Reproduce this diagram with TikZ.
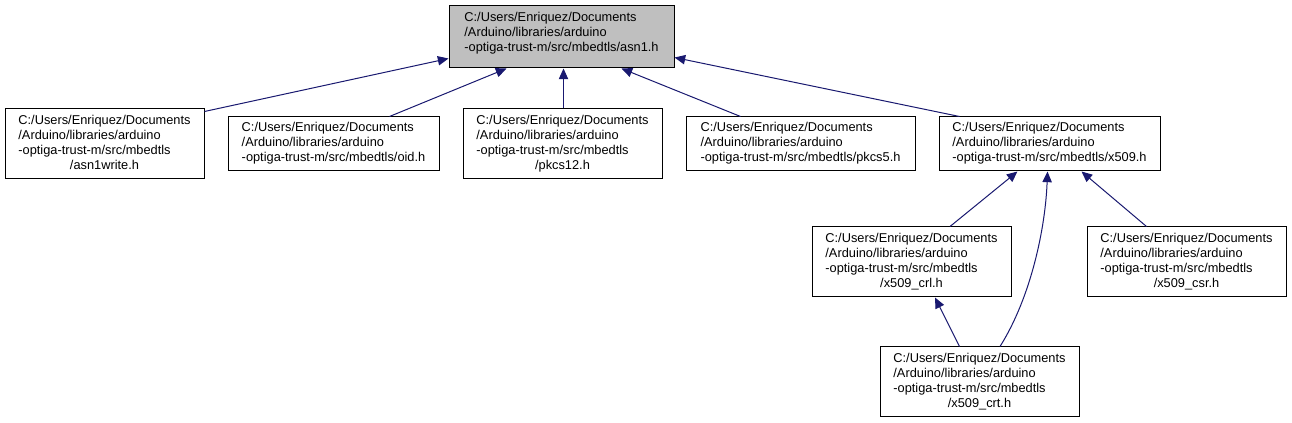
\documentclass[tikz,border=0pt]{standalone}
\usepackage{fontspec}
\setmainfont{Liberation Sans}
\usetikzlibrary{arrows.meta,calc}
\definecolor{edgeblue}{HTML}{191970}
\definecolor{rootgray}{HTML}{BFBFBF}
\newcommand{\fourl}[4]{\begin{tabular}{@{}l@{}}#1\\#2\\#3\\\multicolumn{1}{@{}c@{}}{#4}\end{tabular}}
\newcommand{\threel}[3]{\begin{tabular}{@{}l@{}}#1\\#2\\#3\end{tabular}}
\begin{document}
\begin{tikzpicture}[x=0.75pt,y=-0.75pt,
  filebox/.style={draw=black,line width=0.75pt,fill=white,inner sep=0pt,
    font=\fontsize{9.6}{11.25}\selectfont},
  rootbox/.style={filebox,fill=rootgray},
  edge/.style={draw=edgeblue,line width=0.75pt,-{Triangle[length=8pt,width=7pt]}}]
\fill[white] (0,0) rectangle (1292,423);
\useasboundingbox (0,0) rectangle (1292,423);

\node[rootbox,minimum width=168.75pt,minimum height=46.5pt] (asn1) at (561.5,37)
  {\threel{C:/Users/Enriquez/Documents}{/Arduino/libraries/arduino}{-optiga-trust-m/src/mbedtls/asn1.h\rule[-9pt]{0pt}{9pt}}};
\node[filebox,minimum width=149.25pt,minimum height=52.5pt] (asn1write) at (104.5,144)
  {\fourl{C:/Users/Enriquez/Documents}{/Arduino/libraries/arduino}{-optiga-trust-m/src/mbedtls}{/asn1write.h}};
\node[filebox,minimum width=158.25pt,minimum height=40.5pt] (oid) at (333.5,144)
  {\threel{C:/Users/Enriquez/Documents}{/Arduino/libraries/arduino}{-optiga-trust-m/src/mbedtls/oid.h}};
\node[filebox,minimum width=149.25pt,minimum height=52.5pt] (pkcs12) at (562.5,144)
  {\fourl{C:/Users/Enriquez/Documents}{/Arduino/libraries/arduino}{-optiga-trust-m/src/mbedtls}{/pkcs12.h}};
\node[filebox,minimum width=171.75pt,minimum height=40.5pt] (pkcs5) at (800.5,144)
  {\threel{C:/Users/Enriquez/Documents}{/Arduino/libraries/arduino}{-optiga-trust-m/src/mbedtls/pkcs5.h}};
\node[filebox,minimum width=165.75pt,minimum height=40.5pt] (x509) at (1049.5,144)
  {\threel{C:/Users/Enriquez/Documents}{/Arduino/libraries/arduino}{-optiga-trust-m/src/mbedtls/x509.h}};
\node[filebox,minimum width=149.25pt,minimum height=52.5pt] (crl) at (911.5,262)
  {\fourl{C:/Users/Enriquez/Documents}{/Arduino/libraries/arduino}{-optiga-trust-m/src/mbedtls}{/x509\_crl.h}};
\node[filebox,minimum width=149.25pt,minimum height=52.5pt] (csr) at (1186.5,262)
  {\fourl{C:/Users/Enriquez/Documents}{/Arduino/libraries/arduino}{-optiga-trust-m/src/mbedtls}{/x509\_csr.h}};
\node[filebox,minimum width=149.25pt,minimum height=52.5pt] (crt) at (979.5,382)
  {\fourl{C:/Users/Enriquez/Documents}{/Arduino/libraries/arduino}{-optiga-trust-m/src/mbedtls}{/x509\_crt.h}};

\draw[edge] ([shift={(0,3)}]asn1write.north east) -- ([shift={(0,-10)}]asn1.south west);
\draw[edge] ([shift={(56,0)}]oid.north) -- ([shift={(-55,0)}]asn1.south);
\draw[edge] ([shift={(1,0)}]pkcs12.north) -- ([shift={(2,0)}]asn1.south);
\draw[edge] ([shift={(-60,0)}]pkcs5.north) -- ([shift={(60,0)}]asn1.south);
\draw[edge] ([shift={(21,0)}]x509.north west) -- ([shift={(0,-11)}]asn1.south east);
\draw[edge] ([shift={(38.5,0)}]crl.north) -- ([shift={(-32,0)}]x509.south);
\draw[edge] ([shift={(-40,0)}]csr.north) -- ([shift={(32,0)}]x509.south);
\draw[edge] ([shift={(-20,0)}]crt.north) -- ([shift={(23.5,0)}]crl.south);
\draw[edge] ([shift={(20.5,0)}]crt.north) .. controls ([shift={(52,-50)}]crt.north) and ([shift={(66,-120)}]crt.north) .. ([shift={(-2,0)}]x509.south);
\end{tikzpicture}
\end{document}
